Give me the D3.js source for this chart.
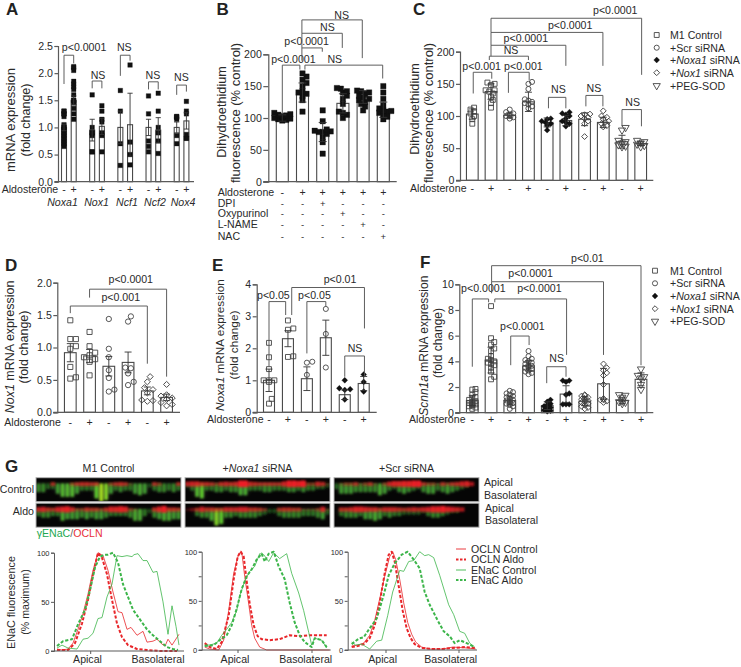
<!DOCTYPE html>
<html><head><meta charset="utf-8">
<script src="https://cdn.jsdelivr.net/npm/d3@7/dist/d3.min.js"></script>
<style>
html,body{margin:0;padding:0;background:#fff}
svg{display:block}
text{font-family:"Liberation Sans",Arial,sans-serif;fill:#2a2a2a}
</style></head><body><div id="chart"></div>
<script>
// ---------- Panel A ----------
const aGenes = ["Noxa1","Nox1","Ncf1","Ncf2","Nox4"];
const aSigns = ["-","+"];
const aMeans = [1.0,1.5,0.95,1.02,1.0,1.05,1.0,0.95,1.0,1.12];
const aErrs  = [0.06,0.08,0.2,0.15,0.3,0.58,0.15,0.23,0.1,0.15];
const aPoints = [
 [0.65,0.7,0.75,0.8,0.85,0.9,0.95,1.0,1.0,1.05,1.2,1.25,1.25,1.3,1.3],
 [1.15,1.25,1.35,1.45,1.5,1.5,1.6,1.7,1.75,1.8,1.85,2.05,2.1,2.12],
 [0.55,0.55,0.85,0.9,0.9,1.0,1.6],
 [0.55,0.85,0.9,1.1,1.15,1.3,1.4],
 [0.3,0.7,1.3,1.68],
 [0.31,0.5,0.73,2.15],
 [0.55,0.65,0.75,1.25,1.58],
 [0.52,0.75,0.9,1.0,1.3,1.63],
 [0.7,0.85,1.15,1.18,1.2,1.2],
 [0.8,0.87,1.25,1.3,1.48,0.8]];
const aBrackets = [
 [0,1.8,2.33,1,2.18,"p<0.0001",1.56,2.4],
 [2,1.72,1.855,3,1.72,"NS",2.6,1.9],
 [4,1.95,2.33,5,2.23,"NS",4.41,2.4],
 [6,1.7,1.84,7,1.7,"NS",6.45,1.9],
 [8,1.6,1.78,9,1.66,"NS",8.48,1.86]];
// ---------- Panel B ----------
const bMeans = [100,140,78,123,133,113];
const bErrs  = [5,15,15,15,10,12];
const bPoints = [
 [96,97,98,99,100,101,102,103,104,105,106,108],
 [110,128,135,138,140,142,150,155,160,165,170],
 [44,62,70,75,78,78,79,80,82,95,112],
 [100,105,108,110,122,130,135,140,142,146,147],
 [112,118,122,125,128,130,132,135,138,140,142,143],
 [98,102,105,108,110,111,112,115,120,130,140,150]];
const bRowLabels = ["Aldosterone","DPI","Oxypurinol","L-NAME","NAC"];
const bRows = [
 ["-","+","+","+","+","+"],
 ["-","-","+","-","-","-"],
 ["-","-","-","+","-","-"],
 ["-","-","-","-","+","-"],
 ["-","-","-","-","-","+"]];
const bBrackets = [
 [0,107,183,0.87,176,"p<0.0001",0.55,187],
 [1.12,176,183,4.97,162,"NS",2.6,187],
 [0.97,190,210,1.98,204,"p<0.0001",1.2,214],
 [0.97,210,233,2.97,210,"NS",2.23,237],
 [0.97,233,254,3.96,194,"NS",2.94,256]];
// ---------- Panel C ----------
const cSigns = ["-","+","-","+","-","+","-","+","-","+"];
const cMeans = [103,138,101,122,90,93,95,90,60,57];
const cErrs  = [8,12,4,15,7,8,10,8,10,3];
const cShapes = ["square","square","circle","circle","bdiamond","bdiamond","diamond","diamond","tri","tri"];
const cPoints = [
 [88,95,100,104,107,110,113],
 [113,120,125,130,135,138,140,140,148,150,152],
 [96,98,100,100,102,104,106,110],
 [112,115,118,120,122,124,126,142,150,153],
 [78,85,88,90,92,95,96],
 [84,88,90,92,96,100,102,104,106],
 [68,88,92,96,98,100,102,103],
 [83,85,88,90,92,95,98,100,108],
 [52,53,55,58,60,62,78,82],
 [52,54,56,58,60,62]];
const cBrackets = [
 [0.05,135,168,1.04,158,"p<0.001",0.5,171],
 [1.93,136,168,3.04,156,"p<0.001",2.73,171],
 [0.91,187,193,3,187,"NS",2.07,196],
 [1,193,210,5,178,"p<0.0001",2.86,215],
 [1,210,230,6.98,178,"p<0.0001",5.23,236],
 [1,230,252,9.05,164,"p<0.0001",7.64,258],
 [4.07,112,129,5,112,"NS",4.6,135],
 [6.07,115,132,6.98,115,"NS",6.5,138],
 [8,84,110,9.04,84,"NS",8.57,115.5]];
const legendNames = [["","M1 Control",""],["","+Scr siRNA",""],["+","Noxa1"," siRNA"],["+","Nox1"," siRNA"],["","+PEG-SOD",""]];
const legendShapes = ["square","circle","bdiamond","diamond","tri"];
// ---------- Panel D ----------
const dSigns = ["-","+","-","+","-","+"];
const dMeans = [0.92,0.87,0.71,0.77,0.33,0.23];
const dErrs  = [0.14,0.1,0.15,0.16,0.06,0.05];
const dShapes = ["square","square","circle","circle","diamond","diamond"];
const dPoints = [
 [0.52,0.54,0.7,0.98,1.02,1.13,1.13,1.42],
 [0.57,0.78,0.82,0.85,0.88,0.92,1.02,1.24],
 [0.32,0.35,0.53,0.65,0.85,0.98,1.44],
 [0.42,0.47,0.6,0.68,0.69,1.4,1.48],
 [0.17,0.19,0.18,0.3,0.35,0.38,0.47,0.55],
 [0.1,0.12,0.15,0.2,0.22,0.25,0.27,0.43]];
const dBrackets = [
 [0,1.53,1.64,4,0.75,"p<0.001",2.62,1.71],
 [1,1.77,1.9,5,0.55,"p<0.0001",3.14,2.0]];
// ---------- Panel E ----------
const eMeans = [1.0,2.3,1.05,2.33,0.55,0.9];
const eErrs  = [0.35,0.25,0.37,0.55,0.15,0.22];
const eShapes = ["square","square","circle","circle","bdiamond","bdiamond"];
const ePoints = [
 [0.27,0.42,0.95,1.0,1.0,1.0,1.35,1.72,2.17],
 [1.73,1.75,2.58,2.62,2.87],
 [1.17,1.55,1.58],
 [1.4,2.45,3.23],
 [0.4,0.7,0.72,0.75,1.0],
 [0.65,0.95,1.18]];
const eBrackets = [
 [0,1.43,3.46,0.88,3.04,"p<0.05",0.23,3.54],
 [2,1.84,3.46,3,3.3,"p<0.05",2.4,3.54],
 [1.2,3.04,3.9,5.04,2.62,"p<0.01",3.75,4.03],
 [4,1.11,1.76,5.04,1.11,"NS",4.54,1.875]];
// ---------- Panel F ----------
const fMeans = [0.95,4.1,0.95,3.65,0.55,1.45,0.9,2.25,0.95,2.6];
const fErrs  = [0.4,1.0,0.35,0.4,0.3,0.65,0.35,1.2,0.25,0.5];
const fPoints = [
 [0.3,0.4,0.5,0.55,0.6,0.65,0.7,0.75,0.8,0.85,0.9,1,1.1,1.2,1.4,1.6,1.8,1.85],
 [2.6,2.8,3.2,3.5,3.7,3.8,3.9,4,4.1,4.2,4.4,4.8,5,5.3,5.5,5.8,8.3],
 [0.3,0.5,0.6,0.7,0.75,0.8,0.85,0.9,0.95,1,1.05,1.1,1.2,1.3,1.4,1.5,1.6,1.7],
 [3,3.1,3.2,3.3,3.4,3.5,3.55,3.6,3.65,3.7,3.8,3.9,4,4.1,4.2,4.4,4.8],
 [0.1,0.15,0.2,0.25,0.3,0.35,0.4,0.5,0.6,0.7,0.85,1],
 [0.65,0.65,0.65,1.4,1.5,2.4,2.5,2.5],
 [0.3,0.4,0.5,0.6,0.7,0.8,0.85,0.9,0.95,1,1.05,1.1,1.2,1.3,1.35,1.4],
 [0.8,0.9,1,1,1.1,2.2,2.9,3.1,3.3,3.5,3.8],
 [0.7,0.8,0.85,0.9,1.2,1.35,1.4],
 [1.8,2.2,2.7,2.8,2.9,3.4]];
const fBrackets = [
 [0,3.58,8.86,0.87,8.6,"p<0.0001",0.59,9.4],
 [1.2,8.6,8.86,5.03,4.5,"p<0.0001",3.58,9.4],
 [1.03,9.3,10.2,7,4.5,"p<0.0001",3.11,10.6],
 [1.03,10.2,11.45,9,3.7,"p<0.01",6.14,11.7],
 [2.05,3.7,5.97,3.03,5.27,"p<0.0001",2.67,6.44],
 [3.97,2.3,3.58,5,2.8,"NS",4.5,3.92]];
// ---------- Panel G micrograph intensities (0-10, per column) ----------
const gColumnTitles = [["","M1 Control",""],["+","Noxa1"," siRNA"],["","+Scr siRNA",""]];
const gRowTitles = ["Control","Aldo"];
const gGreen = [
 [[4,4,2,2,5,7,7,7,5,3,3,3,8,10,9,5,3,4,3,3,5,6,5,1,3,4,4,3,4,3],
  [3,4,4,3,3,6,5,5,5,4,5,4,5,5,4,3,3,3,3,4,6,6,3,1,4,5,6,6,5,5]],
 [[1,3,7,8,3,3,4,4,3,4,4,6,6,3,3,3,4,4,3,3,3,4,4,3,4,3,3,2,2,1],
  [0,0,3,4,4,6,9,8,4,4,3,4,4,4,4,3,2,1,1,3,4,4,4,4,3,3,3,4,5,2]],
 [[2,5,5,5,4,4,4,4,4,6,5,3,2,4,5,4,3,2,4,5,5,3,4,5,4,3,2,1,0,0],
  [0,3,4,4,4,3,5,5,6,5,3,4,3,3,2,2,2,2,1,3,4,4,3,2,1,1,0,0,0,0]]];
const gRed = [
 [[0,0,0,3,0,0,0,2,3,4,4,3,3,0,0,2,3,4,3,1,0,0,0,0,3,2,0,0,0,3],
  [5,6,4,3,6,7,8,5,2,2,4,3,3,2,4,7,7,8,7,2,1,0,0,0,4,7,9,4,4,3]],
 [[5,6,6,4,4,3,2,4,5,4,5,9,9,5,4,3,3,3,3,3,6,9,9,8,9,2,2,5,4,1],
  [1,2,3,6,4,4,3,3,5,5,5,6,6,4,4,3,2,0,0,3,4,4,3,3,1,1,1,2,6,1]],
 [[0,1,2,2,3,1,2,3,1,0,2,5,7,7,8,8,9,9,3,2,2,1,3,2,3,4,6,7,4,0],
  [0,4,4,5,7,7,6,5,5,3,5,5,5,4,3,4,5,4,5,6,8,8,9,7,6,5,4,0,0,0]]];
// ---------- Panel G line profiles: [position, % maximum] ----------
const g1OclnControl = [[3,2],[8,1],[14,2],[19,8],[24,22],[29,38],[34,58],[39,82],[44,100],[49,97],[54,82],[59,60],[64,40],[68,39],[73,22],[77,24],[83,16],[89,20],[93,9],[99,10],[103,12],[108,7],[111,5],[114,12],[118,6],[125,17]];
const g1OclnAldo = [[3,1],[14,1],[21,8],[28,28],[34,52],[39,78],[44,100],[48,95],[53,78],[58,52],[63,28],[68,14],[74,6],[83,2],[93,1],[106,0],[123,0]];
const g1EnacControl = [[3,3],[8,6],[14,3],[23,2],[29,12],[34,13],[39,18],[44,33],[48,34],[53,55],[58,68],[63,97],[68,96],[73,97],[78,96],[80,98],[84,99],[89,92],[93,92],[99,80],[103,81],[109,50],[114,17],[118,46],[122,25],[125,6]];
const g1EnacAldo = [[3,5],[9,10],[18,12],[24,27],[31,42],[36,62],[41,85],[46,96],[51,98],[54,98],[59,100],[64,90],[69,68],[74,55],[79,42],[86,32],[93,22],[99,16],[106,10],[113,4],[119,2],[124,1]];
const g2OclnControl = [[3,3],[8,1],[17,0],[22,10],[27,40],[32,78],[37,98],[40,100],[43,75],[47,47],[50,25],[53,12],[58,3],[65,0],[128,0]];
const g2OclnAldo = [[3,7],[8,3],[15,1],[20,8],[27,35],[32,72],[36,95],[39,100],[42,95],[45,70],[48,47],[52,25],[56,14],[60,11],[68,10],[78,11],[88,15],[98,14],[108,15],[125,15]];
const g2EnacControl = [[3,5],[8,5],[15,7],[20,15],[25,21],[30,28],[35,40],[38,55],[43,70],[48,80],[53,85],[58,98],[62,97],[67,90],[72,99],[78,93],[85,98],[90,78],[97,58],[102,40],[107,18],[110,5],[113,12],[120,10],[125,2]];
const g2EnacAldo = [[3,4],[12,5],[18,10],[25,15],[30,25],[35,42],[40,62],[45,75],[50,82],[55,92],[60,98],[63,90],[67,98],[72,100],[77,85],[83,72],[88,48],[93,28],[98,15],[103,8],[110,3],[113,12],[120,10],[125,3]];
const g3OclnControl = [[4,4],[10,5],[16,7],[22,15],[27,30],[32,52],[37,75],[42,95],[45,100],[48,92],[52,72],[56,48],[60,28],[64,16],[68,8],[74,3],[82,1],[95,1],[105,3],[120,2],[128,1]];
const g3OclnAldo = [[4,3],[10,4],[16,6],[22,12],[27,25],[32,48],[37,78],[41,97],[44,100],[47,90],[51,65],[55,40],[59,22],[63,12],[67,6],[74,2],[85,1],[95,1],[105,2],[118,3],[128,2]];
const g3EnacControl = [[4,8],[8,5],[14,6],[22,1],[29,9],[34,10],[40,35],[45,59],[52,81],[56,80],[61,90],[66,91],[72,100],[77,96],[81,97],[86,94],[92,76],[101,46],[106,36],[112,19],[117,17],[122,7],[127,3]];
const g3EnacAldo = [[4,6],[9,10],[12,12],[16,13],[22,22],[29,32],[36,56],[41,76],[47,88],[54,97],[60,100],[66,92],[72,83],[77,59],[82,46],[90,30],[96,19],[102,14],[107,7],[112,10],[119,7],[127,3]];
const gLineNames = ["OCLN Control","OCLN Aldo","ENaC Control","ENaC Aldo"];

// ========== drawing ==========
const W=741,H=667, INK="#2a2a2a", AXIS="#5a5a5a", FS=10.6;
const svg=d3.select("#chart").append("svg").attr("width",W).attr("height",H).attr("viewBox",[0,0,W,H]);
const defs=svg.append("defs");
defs.append("filter").attr("id","soft").attr("x","-20%").attr("y","-20%").attr("width","140%").attr("height","140%")
  .append("feGaussianBlur").attr("stdDeviation",0.9);
defs.append("filter").attr("id","haze").attr("x","-20%").attr("y","-50%").attr("width","140%").attr("height","200%")
  .append("feGaussianBlur").attr("stdDeviation",2.2);

function T(g,x,y,s,o={}){const t=g.append("text").attr("x",x).attr("y",y).attr("font-size",o.fs||FS)
  .attr("text-anchor",o.anchor||"start").text(s);
  if(o.weight)t.attr("font-weight",o.weight); if(o.fill)t.style("fill",o.fill); return t;}
function rich(g,x,y,parts,o={}){ // parts: [before, italic, after] or plain
  const t=g.append("text").attr("x",x).attr("y",y).attr("font-size",o.fs||FS).attr("text-anchor",o.anchor||"start");
  if(o.rot!==undefined)t.attr("transform",`rotate(${o.rot} ${x} ${y})`);
  const italic=o.italicIdx===undefined?1:o.italicIdx;
  parts.forEach((p,i)=>{if(p) t.append("tspan").attr("font-style",(i===italic&&parts[0]==="+"||o.forceItalic===i)?"italic":"normal").text(p);});
  return t;}
function vtext(g,x,y,parts,fs,forceItalic){return rich(g,x,y,parts,{fs,anchor:"middle",rot:-90,forceItalic});}

function shape(sel,kind,size){
  const sq=d3.symbol().type(d3.symbolSquare), ci=d3.symbol().type(d3.symbolCircle), tr=d3.symbol().type(d3.symbolTriangle);
  if(kind==="circle") sel.attr("d",ci.size(size*0.85)());
  else if(kind==="tri") sel.attr("d",tr.size(size*0.95)());
  else if(kind==="square"||kind==="bsquare") sel.attr("d",sq.size(size)());
  else sel.attr("d",sq.size(size*0.72)());
  const filled=kind==="bsquare"||kind==="bdiamond";
  sel.attr("fill",filled?"#111":"none").attr("stroke",filled?"#111":"#444").attr("stroke-width",filled?0.3:0.9);
  return (x,y)=>{
    const rot=kind==="tri"?" rotate(180)":(kind==="diamond"||kind==="bdiamond")?" rotate(45)":"";
    sel.attr("transform",`translate(${x},${y})${rot}`);
  };
}
// simple swarm: nudges overlapping markers sideways (Prism-style)
function swarm(vals,y,gap,maxOff){
  const placed=[];
  return vals.slice().sort(d3.ascending).map(v=>{
    const py=y(v); let best=0;
    for(let k=0;k<=12;k++){
      const off=(k%2?1:-1)*Math.ceil(k/2)*gap*0.5, o=k===0?0:off;
      if(Math.abs(o)>maxOff) continue;
      if(placed.every(p=>Math.hypot(p[0]-o,p[1]-py)>=gap)){best=o;break;}
    }
    placed.push([best,py]); return [best,py];
  });
}

function panel(cfg){
  const g=svg.append("g");
  const y=d3.scaleLinear().domain(cfg.yDomain).range(cfg.yRange);
  const x=d3.scaleLinear().domain(d3.range(cfg.xPos.length)).range(cfg.xPos);
  // bars
  cfg.means.forEach((m,i)=>{
    g.append("rect").attr("x",x(i)-cfg.barW/2).attr("width",cfg.barW)
     .attr("y",y(m)).attr("height",y(0)-y(m)).attr("fill","#fff")
     .attr("stroke",cfg.barStroke||"#4a4a4a").attr("stroke-width",1.1);
  });
  // points
  cfg.points.forEach((vals,i)=>{
    const kind=cfg.shapes?cfg.shapes[i]:"bsquare";
    swarm(vals,y,cfg.gap,cfg.maxOff).forEach(([o,py])=>{
      shape(g.append("path"),kind,cfg.mSize)(x(i)+o,py);
    });
  });
  // error bars
  cfg.means.forEach((m,i)=>{
    const e=cfg.errs[i],cw=cfg.capW;
    g.append("path").attr("d",`M${x(i)},${y(m-e)}V${y(m+e)}M${x(i)-cw},${y(m+e)}H${x(i)+cw}M${x(i)-cw},${y(m-e)}H${x(i)+cw}`)
      .attr("fill","none").attr("stroke","#333").attr("stroke-width",0.9);
  });
  // axes
  const ax=g.append("g").attr("transform",`translate(${cfg.axisX},0)`)
    .call(d3.axisLeft(y).tickValues(cfg.ticks).tickSize(cfg.tickSize||4).tickPadding(1.5).tickFormat(cfg.fmt));
  ax.selectAll(".domain,line").attr("stroke",AXIS).attr("stroke-width",1.2);
  ax.selectAll("text").attr("font-size",cfg.tickFs||FS).attr("font-family",null);
  g.append("line").attr("x1",cfg.axisX-(cfg.tickSize||4)).attr("x2",cfg.axisEnd).attr("y1",y(0)).attr("y2",y(0))
    .attr("stroke",AXIS).attr("stroke-width",1.2);
  // brackets
  (cfg.brackets||[]).forEach(([i0,v0,vt,i1,v1,lab,li,lv])=>{
    g.append("path").attr("d",`M${x(i0)},${y(v0)}V${y(vt)}H${x(i1)}V${y(v1)}`)
     .attr("fill","none").attr("stroke","#555").attr("stroke-width",0.95);
    T(g,x(li),y(lv),lab,{anchor:"middle"});
  });
  // aldosterone signs
  if(cfg.signs){
    T(g,cfg.aldoX,cfg.aldoY,"Aldosterone");
    cfg.signs.forEach((s,i)=>T(g,x(i),cfg.aldoY,s,{anchor:"middle"}));
  }
  return {g,x,y};
}
function legend(x0,xT,rows){
  const g=svg.append("g");
  legendNames.forEach((n,i)=>{
    shape(g.append("path"),legendShapes[i],24)(x0,rows[i]);
    rich(g,xT,rows[i]+3.8,n);
  });
}
function letter(s,x,y){T(svg,x,y,s,{fs:17,weight:"bold",fill:"#222"});}

// Panel A
const aX=[];
{const gp=d3.scalePoint().domain(aGenes).range([68.85,181.55]);
 const sp=d3.scalePoint().domain(aSigns).range([-4.85,4.85]);
 aGenes.forEach(a=>aSigns.forEach(s=>aX.push(gp(a)+sp(s))));}
const pA=panel({yDomain:[0,2.5],yRange:[181.7,46],xPos:aX,means:aMeans,errs:aErrs,points:aPoints,
  barW:5,mSize:21,gap:3.6,maxOff:3.4,capW:2.6,axisX:58,axisEnd:194,ticks:[0,.5,1,1.5,2,2.5],fmt:d3.format(".1f"),
  brackets:aBrackets,tickSize:3.5});
T(svg,1.7,193.3,"Aldosterone");
aX.forEach((p,i)=>T(svg,p,193.3,aSigns[i%2],{anchor:"middle"}));
aGenes.forEach((n,i)=>T(svg,[62.5,96.5,127,155,183][i],206,n,{anchor:"middle"}).attr("font-style","italic"));
vtext(svg,14.5,120,["mRNA expression"],13);
vtext(svg,30,120,["(fold change)"],12.5);
letter("A",6,15);

// Panel B
const pB=panel({yDomain:[0,200],yRange:[181.7,54.3],xPos:d3.range(6).map(d3.scaleLinear().domain([0,5]).range([282.3,383.3])),
  means:bMeans,errs:bErrs,points:bPoints,barW:12,mSize:30,gap:4,maxOff:8.5,capW:4,axisX:268.3,axisEnd:396.7,
  ticks:[0,50,100,150,200],fmt:d3.format("d"),brackets:bBrackets,tickSize:5});
bRowLabels.forEach((l,r)=>{
  const yy=[196,206.5,217,228,239.5][r];
  T(svg,217.7,yy,l);
  bRows[r].forEach((s,i)=>T(svg,pB.x(i),yy,s,{anchor:"middle",fs:r===0?10.6:9.5}));
});
vtext(svg,226,112,["Dihydroethidium"],12.7);
vtext(svg,240,113,["fluorescence (% control)"],13);
letter("B",216.5,15);

// Panel C
const pC=panel({yDomain:[0,200],yRange:[180.3,51.7],xPos:d3.range(10).map(d3.scaleLinear().domain([0,9]).range([472.3,640.7])),
  means:cMeans,errs:cErrs,points:cPoints,shapes:cShapes,barW:11.7,mSize:24,gap:3.6,maxOff:5.5,capW:3.5,axisX:460,axisEnd:653.3,
  ticks:[0,50,100,150,200],fmt:d3.format("d"),brackets:cBrackets,signs:cSigns,aldoX:410,aldoY:191.7,tickSize:4});
vtext(svg,419,109,["Dihydroethidium"],12.7);
vtext(svg,433,113,["fluorescence (% control)"],13);
letter("C",413,15);
legend(656.7,670,[35,47.7,60,72.7,85.7]);

// Panel D
const pD=panel({yDomain:[0,2],yRange:[412.3,282.7],xPos:d3.range(6).map(d3.scaleLinear().domain([0,5]).range([70.3,166.6])),
  means:dMeans,errs:dErrs,points:dPoints,shapes:dShapes,barW:11.7,mSize:26,gap:5.6,maxOff:7,capW:3.5,axisX:57.3,axisEnd:180,
  ticks:[0,.5,1,1.5,2],fmt:d3.format(".1f"),brackets:dBrackets,signs:dSigns,aldoX:4.3,aldoY:425.5,tickSize:4});
vtext(svg,14,347,["Nox1"," mRNA expression"],12.5,0);
vtext(svg,28,347,["(fold change)"],12.5);
letter("D",5,270.7);

// Panel E
const pE=panel({yDomain:[0,4],yRange:[412.3,284.3],xPos:d3.range(6).map(d3.scaleLinear().domain([0,5]).range([269,363.7])),
  means:eMeans,errs:eErrs,points:ePoints,shapes:eShapes,barW:11,mSize:24,gap:5.4,maxOff:5.6,capW:3.5,axisX:256.7,axisEnd:376.7,
  ticks:[0,1,2,3,4],fmt:d3.format("d"),brackets:eBrackets,signs:dSigns,aldoX:207,aldoY:423,tickSize:4});
vtext(svg,224,345,["Noxa1"," mRNA expression"],11.8,0);
vtext(svg,238,345,["(fold change)"],11.8);
letter("E",212,270.7);

// Panel F
const pF=panel({yDomain:[0,10],yRange:[412.7,284.3],xPos:d3.range(10).map(d3.scaleLinear().domain([0,9]).range([472.3,641])),
  means:fMeans,errs:fErrs,points:fPoints,shapes:cShapes,barW:11.7,mSize:24,gap:3.2,maxOff:5.8,capW:3.5,axisX:459.3,axisEnd:653.3,
  ticks:[0,2,4,6,8,10],fmt:d3.format("d"),brackets:fBrackets,signs:cSigns,aldoX:409,aldoY:423,tickSize:4});
vtext(svg,428,345.7,["Scnn1a"," mRNA expression"],12,0);
vtext(svg,442,343,["(fold change)"],12);
letter("F",420,268);
legend(655,670,[270.7,283.3,296,308.7,321.3]);

// Panel G - micrographs
letter("G",5,471.7);
const colX=[[36,181],[185,330],[334,479]], rowY=[[477.7,501.7],[503.2,527.2]];
const greenColor=d3.scaleLinear().domain([0,5,8,10]).range(["#123a12","#3d9a2e","#5cc92c","#a6e01f"]);
const redOp=d3.scaleLinear().domain([0,3,9]).range([0,0.65,1]);
gColumnTitles.forEach((t,c)=>{
  rich(svg,(colX[c][0]+colX[c][1])/2,471.7,t,{anchor:"middle"});
  gRowTitles.forEach((_,r)=>{
    const [x0,x1]=colX[c],[y0,y1]=rowY[r];
    const band=d3.scaleBand().domain(d3.range(30)).range([x0,x1]);
    const depth=d3.scaleLinear().domain([0,1]).range([y0,y1]);
    const cid=`clip${c}${r}`;
    defs.append("clipPath").attr("id",cid).append("rect").attr("x",x0).attr("y",y0).attr("width",x1-x0).attr("height",y1-y0);
    const s=svg.append("g");
    s.append("rect").attr("x",x0).attr("y",y0).attr("width",x1-x0).attr("height",y1-y0).attr("fill","#050505");
    const inner=s.append("g").attr("clip-path",`url(#${cid})`);
    const hz=inner.append("g").attr("filter","url(#haze)");
    gGreen[c][r].forEach((v,i)=>{
      hz.append("rect").attr("x",band(i)).attr("width",band.bandwidth())
        .attr("y",depth(.3)).attr("height",depth(.25+.07*v)-depth(.3))
        .attr("fill","#8a8a7a").attr("opacity",v?0.35:0);
    });
    const gr=inner.append("g").attr("filter","url(#soft)");
    gGreen[c][r].forEach((v,i)=>{
      if(!v)return;
      gr.append("rect").attr("x",band(i)+band.bandwidth()*.12).attr("width",band.bandwidth()*.76)
        .attr("y",depth(.24)).attr("height",depth(.14+.065*v)-depth(.04))
        .attr("fill",greenColor(v));
    });
    const rd=inner.append("g").attr("filter","url(#soft)");
    gRed[c][r].forEach((v,i)=>{
      if(!v)return;
      rd.append("rect").attr("x",band(i)).attr("width",band.bandwidth())
        .attr("y",depth(.22-.012*v)).attr("height",depth(.1+.02*v)-depth(0))
        .attr("fill","#ee1c25").attr("opacity",redOp(v));
    });
    s.append("rect").attr("x",x0).attr("y",y0).attr("width",x1-x0).attr("height",y1-y0)
      .attr("fill","none").attr("stroke","#b5b5b5").attr("stroke-width",1);
  });
});
T(svg,34,492.7,"Control",{anchor:"end"});
T(svg,34,515,"Aldo",{anchor:"end"});
T(svg,484,485.7,"Apical"); T(svg,484,499,"Basolateral");
T(svg,485,512.3,"Apical"); T(svg,485,524.3,"Basolateral");
{const t=svg.append("text").attr("x",36.7).attr("y",537.3).attr("font-size",FS);
 t.append("tspan").style("fill","#22a84f").text("γENaC");
 t.append("tspan").style("fill","#666").text("/");
 t.append("tspan").style("fill","#e8303a").text("OCLN");}

// Panel G - profile charts
const RED="#e8262a", GREEN="#3cb54a";
const lineStyles=[
 {c:RED,w:0.8,dash:null},{c:RED,w:2,dash:"3.2 1.8"},
 {c:GREEN,w:0.8,dash:null},{c:GREEN,w:2,dash:"3.2 1.8"}];
function profile(cfg){
  const g=svg.append("g");
  const y=d3.scaleLinear().domain([0,100]).range(cfg.yr);
  const x=d3.scaleLinear().domain([0,cfg.end-cfg.ax]).range([cfg.ax,cfg.end]);
  const ln=d3.line().x(d=>x(d[0])).y(d=>y(d[1]));
  cfg.series.forEach((s,i)=>{
    const st=lineStyles[i];
    g.append("path").attr("d",ln(s)).attr("fill","none").attr("stroke",st.c).attr("stroke-width",st.w)
      .attr("stroke-dasharray",st.dash).attr("stroke-linejoin","round");
  });
  const a=g.append("g").attr("transform",`translate(${cfg.ax},0)`)
    .call(d3.axisLeft(y).tickValues(cfg.ticks).tickSize(3).tickPadding(1.5).tickFormat(d=>d%50?"":d));
  a.selectAll(".domain,line").attr("stroke",AXIS).attr("stroke-width",1);
  a.selectAll("text").attr("font-size",7.5).attr("font-family",null);
  g.append("line").attr("x1",cfg.ax-3).attr("x2",cfg.end).attr("y1",y(0)).attr("y2",y(0)).attr("stroke",AXIS).attr("stroke-width",1.1);
  cfg.marks.forEach(m=>g.append("line").attr("x1",m).attr("x2",m).attr("y1",y(0)).attr("y2",y(0)+3).attr("stroke",AXIS).attr("stroke-width",1));
  T(g,cfg.lab[0],663,"Apical",{anchor:"middle"});
  T(g,cfg.lab[1],663,"Basolateral",{anchor:"middle"});
}
profile({ax:54,end:184,yr:[651,552.7],ticks:[0,50,100],marks:[90.7],lab:[87.5,158],
  series:[g1OclnControl,g1OclnAldo,g1EnacControl,g1EnacAldo]});
profile({ax:201.7,end:330.7,yr:[650,551.7],ticks:[0,25,50,75,100],marks:[238,312],lab:[235,305.7],
  series:[g2OclnControl,g2OclnAldo,g2EnacControl,g2EnacAldo]});
profile({ax:347.7,end:477,yr:[650,551.7],ticks:[0,25,50,75,100],marks:[386,459],lab:[382.7,450.7],
  series:[g3OclnControl,g3OclnAldo,g3EnacControl,g3EnacAldo]});
vtext(svg,15,602.5,["ENaC fluorescence"],10.8);
vtext(svg,28.5,602,["(% maximum)"],10.6);
gLineNames.forEach((n,i)=>{
  const yy=[549,559.5,570,580][i],st=lineStyles[i];
  svg.append("line").attr("x1",456).attr("x2",466).attr("y1",yy).attr("y2",yy)
    .attr("stroke",st.c).attr("stroke-width",st.w===2?1.8:0.9).attr("stroke-dasharray",st.dash?"2.5 1.5":null);
  T(svg,471,yy+3.8,n);
});
</script></body></html>
